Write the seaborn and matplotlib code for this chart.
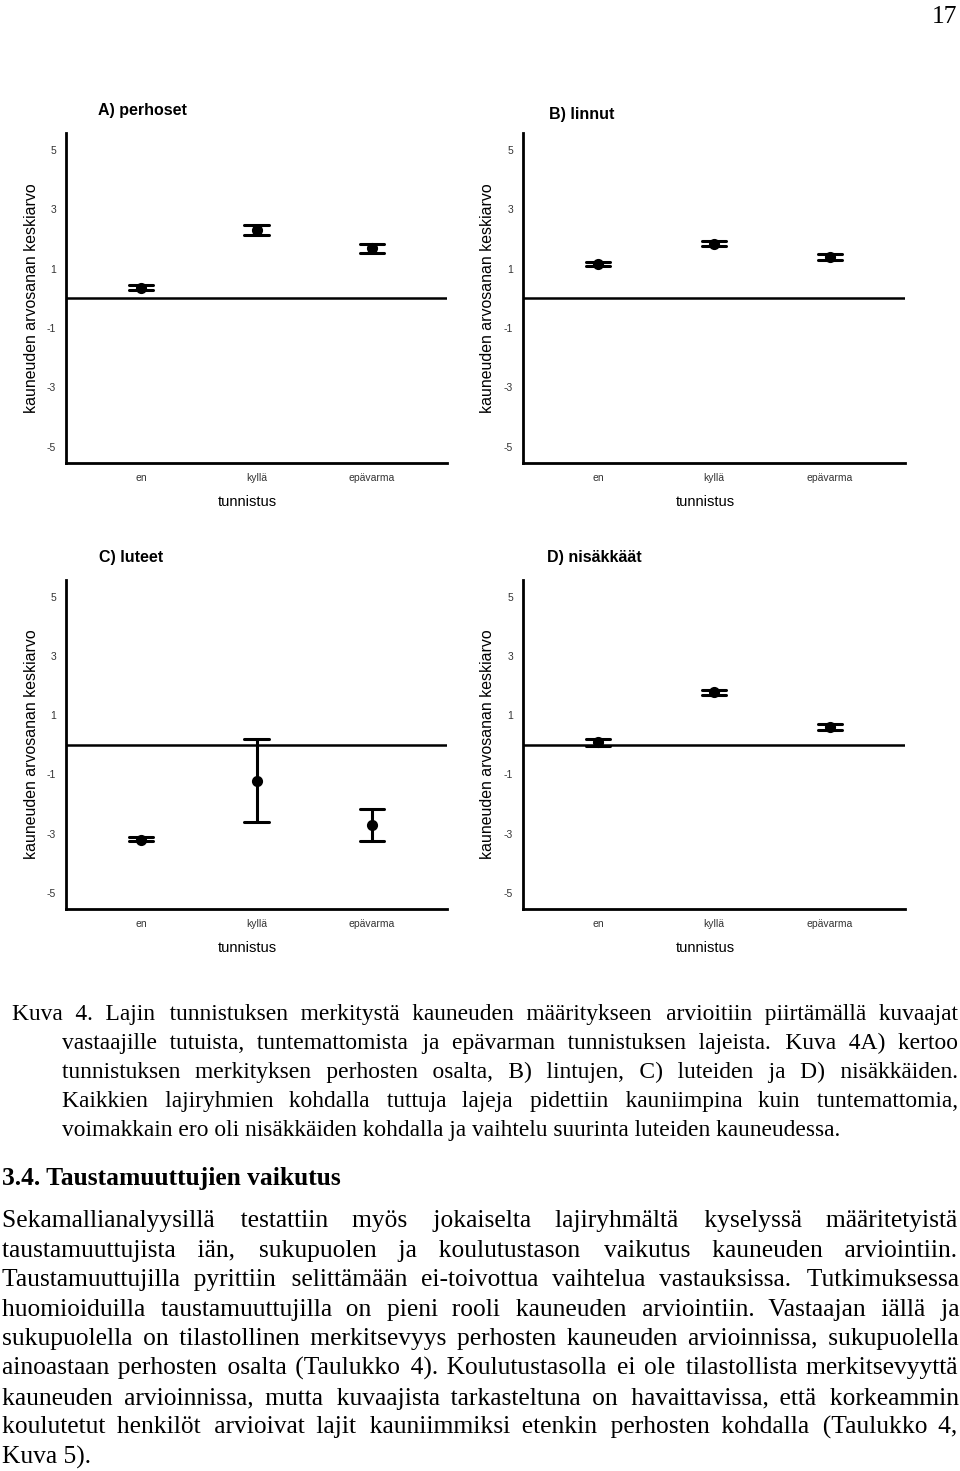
import numpy as np
import pandas as pd
import matplotlib
matplotlib.use("Agg")
import matplotlib.pyplot as plt
from matplotlib.font_manager import FontProperties
import seaborn as sns

W, H = 960, 1471

# ---------------- data ----------------
categories = ["en", "kyllä", "epävarma"]
panel_titles = ["A) perhoset", "B) linnut", "C) luteet", "D) nisäkkäät"]

mean_A = [0.36, 2.30, 1.69]
low_A = [0.28, 2.13, 1.53]
high_A = [0.45, 2.47, 1.84]

mean_B = [1.15, 1.83, 1.39]
low_B = [1.09, 1.76, 1.29]
high_B = [1.21, 1.92, 1.48]

mean_C = [-3.21, -1.21, -2.72]
low_C = [-3.26, -2.60, -3.25]
high_C = [-3.12, 0.18, -2.16]

mean_D = [0.08, 1.77, 0.61]
low_D = [-0.04, 1.69, 0.49]
high_D = [0.19, 1.86, 0.71]

yticks = [5, 3, 1, -1, -3, -5]
ytick_labels = ["5", "3", "1", "-1", "-3", "-5"]
ylabel = "kauneuden arvosanan keskiarvo"
xlabel = "tunnistus"
page_number = "17"

caption_lines = [
    "Kuva 4. Lajin tunnistuksen merkitystä kauneuden määritykseen arvioitiin piirtämällä kuvaajat",
    "vastaajille tutuista, tuntemattomista ja epävarman tunnistuksen lajeista. Kuva 4A) kertoo",
    "tunnistuksen merkityksen perhosten osalta, B) lintujen, C) luteiden ja D) nisäkkäiden.",
    "Kaikkien lajiryhmien kohdalla tuttuja lajeja pidettiin kauniimpina kuin tuntemattomia,",
    "voimakkain ero oli nisäkkäiden kohdalla ja vaihtelu suurinta luteiden kauneudessa.",
]
heading = "3.4. Taustamuuttujien vaikutus"
body_lines = [
    "Sekamallianalyysillä testattiin myös jokaiselta lajiryhmältä kyselyssä määritetyistä",
    "taustamuuttujista iän, sukupuolen ja koulutustason vaikutus kauneuden arviointiin.",
    "Taustamuuttujilla pyrittiin selittämään ei-toivottua vaihtelua vastauksissa. Tutkimuksessa",
    "huomioiduilla taustamuuttujilla on pieni rooli kauneuden arviointiin. Vastaajan iällä ja",
    "sukupuolella on tilastollinen merkitsevyys perhosten kauneuden arvioinnissa, sukupuolella",
    "ainoastaan perhosten osalta (Taulukko 4). Koulutustasolla ei ole tilastollista merkitsevyyttä",
    "kauneuden arvioinnissa, mutta kuvaajista tarkasteltuna on havaittavissa, että korkeammin",
    "koulutetut henkilöt arvioivat lajit kauniimmiksi etenkin perhosten kohdalla (Taulukko 4,",
    "Kuva 5).",
]

panels = [
    (mean_A, low_A, high_A),
    (mean_B, low_B, high_B),
    (mean_C, low_C, high_C),
    (mean_D, low_D, high_D),
]

# ---------------- style ----------------
sns.set_style("white")
plt.rcParams["font.family"] = ["Liberation Sans", "DejaVu Sans"]
plt.rcParams["axes.unicode_minus"] = False

fig = plt.figure(figsize=(W / 100, H / 100), dpi=100)
fig.patch.set_facecolor("white")

# axes boxes in pixels: left, top, right, bottom
axes_boxes = [(66, 133, 447, 463), (523, 133, 905, 463),
              (66, 580, 447, 909), (523, 580, 905, 909)]
title_pos = [(98, 111), (549, 115), (99, 558), (547, 558)]

for (m, lo, hi), box, title, tpos in zip(panels, axes_boxes, panel_titles, title_pos):
    l, t, r, b = box
    ax = fig.add_axes([l / W, 1 - b / H, (r - l) / W, (b - t) / H])
    rows = []
    for c, mv, lv, hv in zip(categories, m, lo, hi):
        for v in (lv, mv, hv):
            rows.append({"tunnistus": c, "arvo": v})
    df = pd.DataFrame(rows)
    ax.axhline(0, color="black", lw=1.8, zorder=1)
    sns.pointplot(data=df, x="tunnistus", y="arvo", order=categories,
                  estimator="median", errorbar=lambda v: (v.min(), v.max()),
                  color="black", markers="o", markersize=6, linestyle="none",
                  capsize=0.21, err_kws={"linewidth": 2.2}, ax=ax)
    ax.set_xlim(-0.65, 2.65)
    ax.set_ylim(-5.55, 5.57)
    ax.set_yticks(yticks)
    ax.set_yticklabels(ytick_labels)
    for s in ["top", "right"]:
        ax.spines[s].set_visible(False)
    for s in ["left", "bottom"]:
        ax.spines[s].set_linewidth(2.0)
        ax.spines[s].set_color("black")
    ax.tick_params(axis="both", direction="out", length=4, width=1.2,
                   colors="black", labelcolor="#333333", labelsize=7.5, pad=3)
    ax.set_ylabel(ylabel, fontsize=11.4, color="black")
    ax.set_xlabel(xlabel, fontsize=10.5, color="black")
    ax.yaxis.set_label_coords(-0.072, 0.5)
    ax.xaxis.set_label_coords(0.476, -0.098)
    ax.set_facecolor("white")
    fig.text(tpos[0] / W, 1 - tpos[1] / H, title, fontsize=11.5,
             fontweight="bold", ha="left", va="center", color="black")

# ---------------- page text ----------------
renderer = fig.canvas.get_renderer()
serif = ["Liberation Serif", "DejaVu Serif"]
THIN, HAIR = "\u2009", "\u200a"


def measure(s, size, weight="normal"):
    fp = FontProperties(family=serif, size=size, weight=weight)
    return renderer.get_text_width_height_descent(s, fp, ismath=False)[0]


def draw_line(line, x0, x1, baseline, size, justify=True, weight="normal"):
    baseline = round(baseline)
    words = line.split()
    text = " ".join(words)
    if justify and len(words) > 1:
        base_aa = measure("aa", size, weight)
        w_thin = measure("a" + THIN + "a", size, weight) - base_aa
        w_hair = measure("a" + HAIR + "a", size, weight) - base_aa
        ngap = len(words) - 1
        extra = (x1 - x0) - measure(text, size, weight)
        pieces = [words[0]]
        achieved = 0.0
        for k in range(1, ngap + 1):
            need = extra * k / ngap - achieved
            fill = ""
            if need > 0 and w_thin > 0:
                nt = int(need // w_thin)
                rem = need - nt * w_thin
                nh = int(round(rem / w_hair)) if w_hair > 0 else 0
                fill = THIN * nt + HAIR * nh
                achieved += nt * w_thin + nh * w_hair
            pieces.append(" " + fill + words[k])
        text = "".join(pieces)
    fig.text(x0 / W, 1 - baseline / H, text, fontsize=size, family=serif,
             fontweight=weight, ha="left", va="baseline", color="black")


cap_size = 16.9
body_size = 18.4
for i, line in enumerate(caption_lines):
    x0 = 12 if i == 0 else 62
    draw_line(line, x0, 958, 1020 + 29.0 * i, cap_size,
              justify=(i < len(caption_lines) - 1))

draw_line(heading, 2, 958, 1185, body_size, justify=False, weight="bold")

for i, line in enumerate(body_lines):
    draw_line(line, 2, 958, 1227 + 29.6 * i, body_size,
              justify=(i < len(body_lines) - 1))

fig.text(957 / W, 1 - 23 / H, page_number, fontsize=body_size, family=serif,
         ha="right", va="baseline", color="black")

fig.savefig("out.png", dpi=100, facecolor="white")
